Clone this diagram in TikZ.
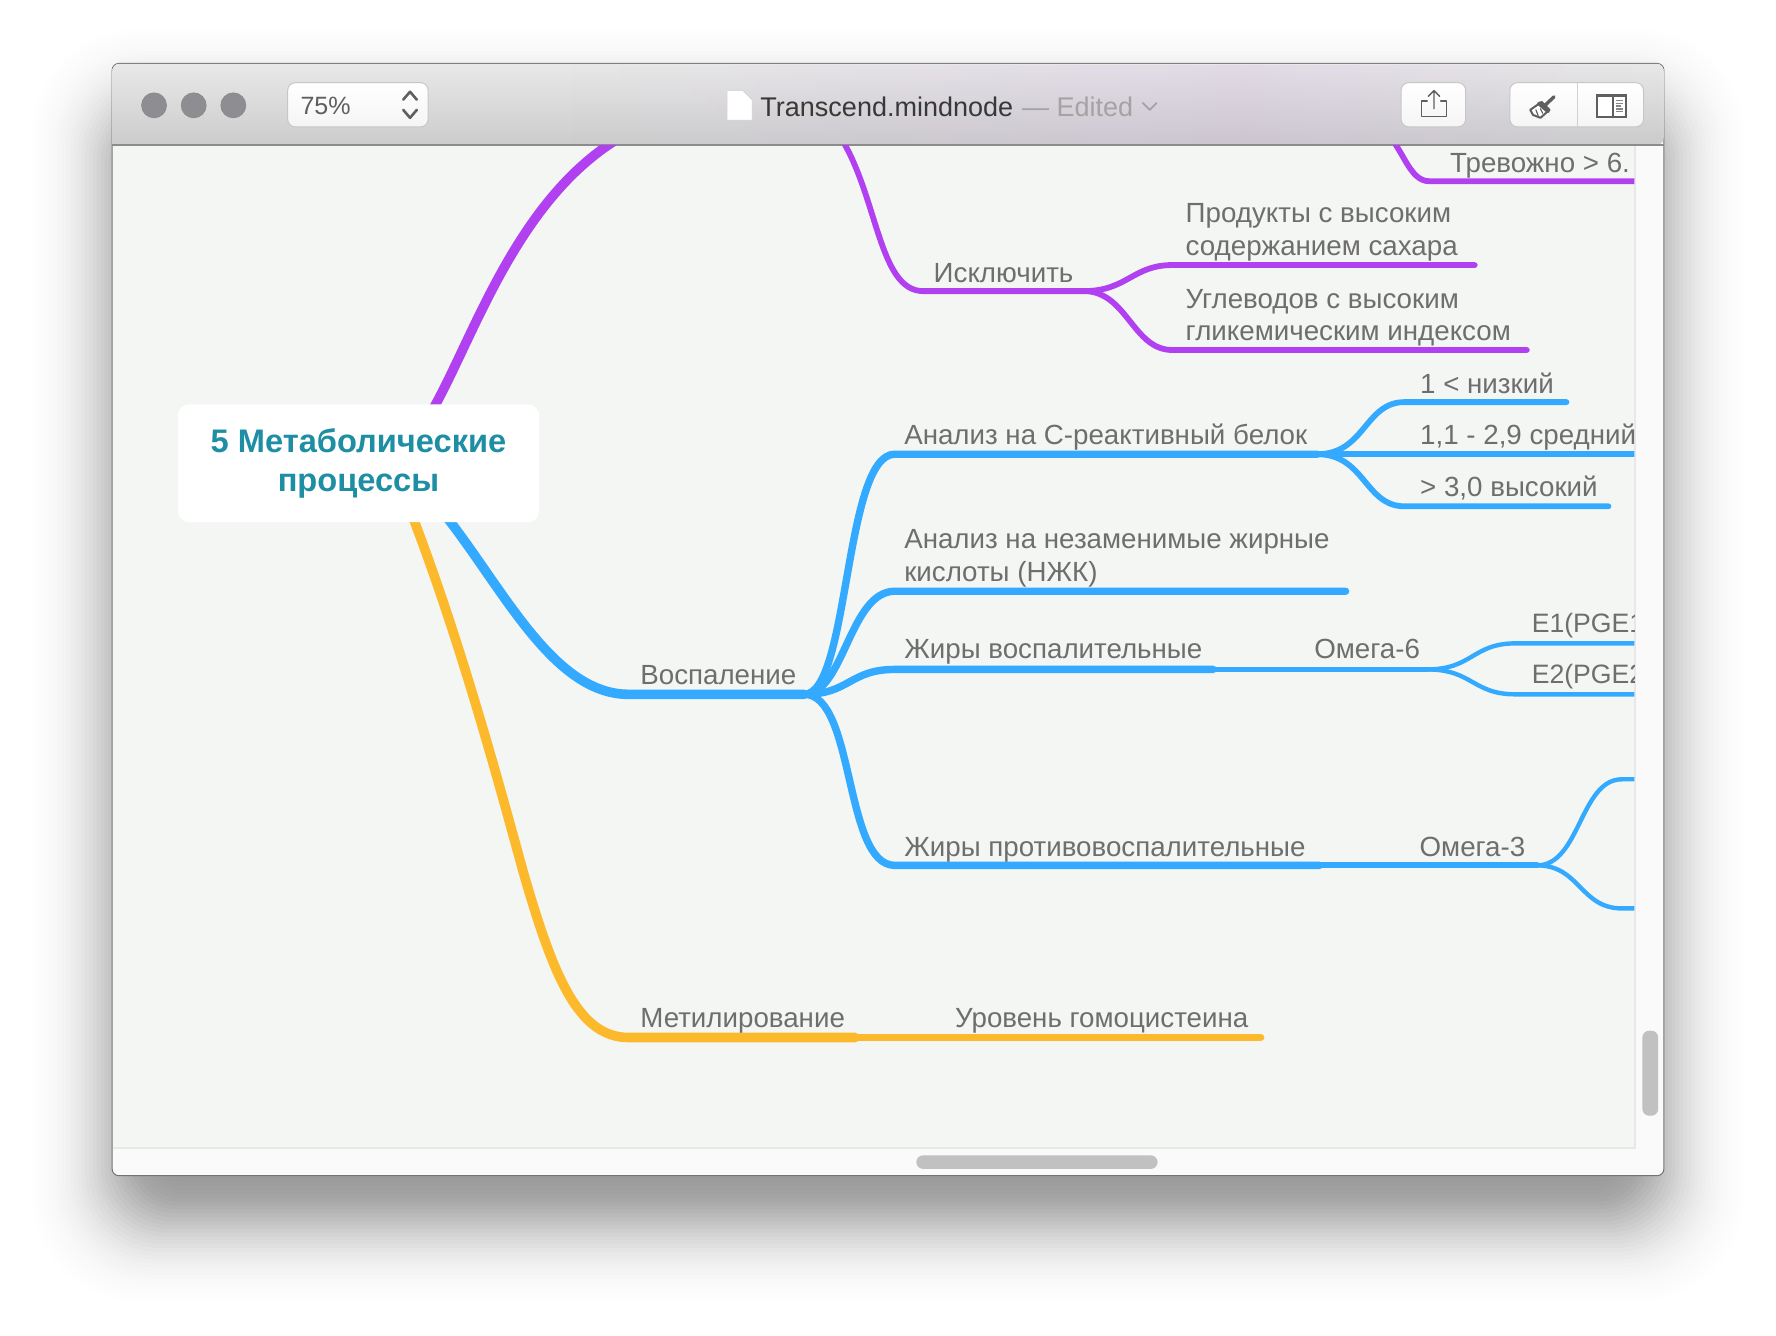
\documentclass[tikz,border=0pt]{standalone}
\usepackage{fontspec}
\setmainfont{Liberation Sans}
\usetikzlibrary{fadings,calc}
\pgfdeclarelayer{chrome}
\pgfdeclarelayer{conn}
\definecolor{pur}{RGB}{176,64,240}
\definecolor{blu}{RGB}{51,170,255}
\definecolor{yel}{RGB}{253,185,44}
\definecolor{txt}{RGB}{110,110,110}
\definecolor{canv}{RGB}{244,246,243}
\definecolor{teal2}{RGB}{29,142,163}
\definecolor{strip}{RGB}{250,250,250}
\definecolor{sbar}{RGB}{193,193,193}
\definecolor{lights}{RGB}{142,141,146}
\definecolor{iconc}{RGB}{95,95,95}
\definecolor{tint}{RGB}{205,175,225}
\tikzset{
  lab/.style={anchor=base west,inner sep=0pt,text=txt,font=\fontsize{13.85}{16}\selectfont},
  labs/.style={lab,font=\fontsize{13.3}{16}\selectfont},
  rootbox/.style={fill=white,rounded corners=5.6pt,inner sep=0pt,minimum width=180.5pt,minimum height=58.9pt,align=center,text=teal2,font=\fontsize{16.3}{19.8}\selectfont\bfseries},
  link/.style={line cap=round,line join=round},
  wa/.style={link,line width=4.8pt},
  wb/.style={link,line width=3.7pt},
  wc/.style={link,line width=2.9pt},
  wd/.style={link,line width=2.2pt},
  btn/.style={draw=black!22,line width=0.5pt,rounded corners=3.8pt,top color=white,bottom color=black!4},
  icon/.style={draw=iconc,line width=0.7pt,line cap=round,line join=round},
  lamp/.style={fill=lights,draw=black!45,line width=0.4pt},
  bar/.style={fill=sbar,rounded corners=3.4pt}
}
\begin{document}
\begin{tikzpicture}[x=0.566pt,y=-0.566pt]
\pgfsetlayers{chrome,conn,main}
\useasboundingbox (0,0) rectangle (1568,1179.5);

% ---------- window chrome ----------
\begin{pgfonlayer}{chrome}
\fill[white] (0,0) rectangle (1568,1179.5);
\foreach \z in {-2.5,-2.4,...,2.51}{
  \pgfmathsetmacro{\sp}{\z*34}
  \pgfmathsetmacro{\op}{0.5*0.1*0.3989*exp(-0.5*\z*\z)}
  \pgfmathsetmacro{\rad}{max(3,(\sp+90)*0.33)}
  \fill[black,fill opacity=\op,rounded corners=\rad pt]
     (99-\sp,96-\sp) rectangle (1469+\sp,1078+\sp);
}
\fill[strip,draw=black!55,line width=0.5pt,rounded corners=3.4pt] (99,56) rectangle (1469,1038);
\fill[canv] (99.5,128) rectangle (1443,1013);
\draw[black!9,line width=0.6pt] (99.5,1013.5) -- (1443.5,1013.5) -- (1443.5,128);
\path[top color=black!9,bottom color=black!20,rounded corners=3.4pt]
  (99.3,128) -- (99.3,56.3) -- (1468.7,56.3) -- (1468.7,128) [sharp corners] -- cycle;
\path[fill=tint,fill opacity=0.22,path fading=west]
  (500,128) rectangle (1100,57);
\path[fill=tint,fill opacity=0.22,path fading=east]
  (1100,128) rectangle (1468.7,57);
\draw[black!45,line width=0.6pt] (99,128) -- (1469,128);
\fill[bar] (1450,910) rectangle (1464,985);
\fill[bar] (809,1020) rectangle (1022,1032);
\end{pgfonlayer}

% toolbar items
\path[lamp] (136,93) circle [radius=11];
\path[lamp] (171,93) circle [radius=11];
\path[lamp] (206,93) circle [radius=11];
\path[btn] (254,73) rectangle (378,112);
\node[anchor=base west,inner sep=0pt,text=iconc,font=\fontsize{12.5}{16}\selectfont] (zoomt) at (265,101.5) {75\%};
\draw[icon,line width=1.3pt] (356,88) -- (362,81) -- (368,88);
\draw[icon,line width=1.3pt] (356,97) -- (362,104) -- (368,97);
\path[fill=white,draw=black!18,line width=0.3pt] (642,80) -- (656,80) -- (664,88) -- (664,106) -- (642,106) -- cycle;
\node[anchor=base west,inner sep=0pt,text=black!78,font=\fontsize{13.5}{16}\selectfont] (title) at (671,103) {Transcend.mindnode};
\node[anchor=base west,inner sep=0pt,text=black!36,font=\fontsize{13.5}{16}\selectfont] (edited) at (902,103) {— Edited};
\draw[black!36,line width=0.9pt,line cap=round,line join=round] (1009,91) -- (1015,97) -- (1021,91);
\path[btn] (1237,73) rectangle (1294,112);
\draw[icon] (1260,89) -- (1255,89) -- (1255,103) -- (1277,103) -- (1277,89) -- (1272,89);
\draw[icon] (1266,96) -- (1266,80) (1261,85) -- (1266,80) -- (1271,85);
\path[btn] (1333,73) rectangle (1451,112);
\draw[black!18,line width=0.5pt] (1393,73) -- (1393,112);
% brush
\draw[icon,line width=1.7pt] (1364,93) -- (1372,85.5);
\draw[icon,fill=white,line width=1pt] (1351,97) -- (1361,90) -- (1368,97) -- (1360,104) -- (1353.5,101.5) -- cycle;
\draw[icon,line width=2pt] (1359,91.5) -- (1366.5,98);
\draw[icon,line width=0.6pt] (1356,97) -- (1358,102) (1360,96) -- (1362,100);
% side panel
\draw[icon,line width=1.1pt,fill=white,line join=miter] (1410,84) rectangle (1435.5,103.5);
\fill[iconc] (1410,83.5) rectangle (1435.5,86);
\draw[icon,line width=1.1pt] (1424,84) -- (1424,103.5);
\foreach \q/\e in {88/1433,90.5/1433,93/1431,95.5/1433,98/1433}{\fill[iconc!75] (1427,\q) rectangle (\e,\q+1.2);}

% ---------- mind map labels ----------
\begin{scope}
\clip (99.5,128.5) rectangle (1443,1013);
\node[lab] (trev) at (1280,152) {Тревожно > 6.};
\node[lab] (isk) at (824,249) {Исключить};
\node[lab] (prod1) at (1046.5,196) {Продукты с высоким};
\node[lab] (prod2) at (1046.5,226) {содержанием сахара};
\node[lab] (ugl1) at (1046.5,272) {Углеводов с высоким};
\node[lab] (ugl2) at (1046.5,301) {гликемическим индексом};
\node[lab] (crp) at (798,392) {Анализ на С-реактивный белок};
\node[lab] (low) at (1253.5,347) {1 < низкий};
\node[lab] (mid) at (1253.5,392) {1,1 - 2,9 средний};
\node[lab] (high) at (1253.5,438) {> 3,0 высокий};
\node[lab] (nzk1) at (798,484) {Анализ на незаменимые жирные};
\node[lab] (nzk2) at (798,513) {кислоты (НЖК)};
\node[lab] (vosp) at (565,604) {Воспаление};
\node[lab] (fatin) at (798,581) {Жиры воспалительные};
\node[lab] (om6) at (1160,581) {Омега-6};
\node[labs] (e1) at (1352,558) {E1(PGE1};
\node[labs] (e2) at (1352,603) {E2(PGE2};
\node[lab] (fatanti) at (798,756) {Жиры противовоспалительные};
\node[lab] (om3) at (1253,756) {Омега-3};
\node[lab] (met) at (565,907) {Метилирование};
\node[lab] (gom) at (843,907) {Уровень гомоцистеина};
\end{scope}
\node[rootbox] (root) at (316.5,409) {5 Метаболические\\процессы};

% anchors of the branches
\coordinate (rootP) at (372,378);
\coordinate (rootB) at (385,445);
\coordinate (rootY) at (360,445);
\coordinate (pTop) at (565,112);
\coordinate (p2Top) at (740,118);
\coordinate (jIsk) at (957,257);
\coordinate (iskL) at (815,257);
\coordinate (tL) at (1262,160);
\coordinate (tTop) at (1225,118);
\coordinate (jVos) at (710,613);
\coordinate (vosL) at (555,613);
\coordinate (jCrp) at (1163,401);
\coordinate (jOm6) at (1260,591);
\coordinate (jOm3) at (1357,764);
\coordinate (metL) at (555,916);

% ---------- connectors ----------
\begin{pgfonlayer}{conn}
\begin{scope}
\clip (99.5,128.5) rectangle (1443,1013);
% purple
\draw[wa,pur] (rootP) .. controls (415,315) and (452,165) .. (pTop);
\draw[wc,pur] (p2Top) .. controls (775,170) and (775,257) .. (iskL) -- (jIsk);
\draw[wc,pur] (tTop) .. controls (1240,135) and (1245,160) .. (tL) -- (1460,160);
\draw[wc,pur] (jIsk) .. controls (995,257) and (1000,234) .. (1035,234) -- (1302,234);
\draw[wc,pur] (jIsk) .. controls (995,257) and (1000,309) .. (1035,309) -- (1348,309);
% blue
\draw[wa,blu] (rootB) .. controls (440,510) and (485,613) .. (vosL) -- (jVos);
\draw[wb,blu] (jVos) .. controls (750,613) and (745,401) .. (790,401) -- (jCrp);
\draw[wb,blu] (jVos) .. controls (745,613) and (750,522) .. (790,522) -- (1188,522);
\draw[wb,blu] (jVos) .. controls (750,613) and (750,591) .. (790,591) -- (1071,591);
\draw[wc,blu] (1071,591) -- (jOm6);
\draw[wb,blu] (jVos) .. controls (755,613) and (745,764) .. (790,764) -- (1165,764);
\draw[wc,blu] (1165,764) -- (jOm3);
\draw[wc,blu] (jCrp) .. controls (1205,401) and (1205,355) .. (1240,355) -- (1383,355);
\draw[wc,blu] (jCrp) -- (1460,401);
\draw[wc,blu] (jCrp) .. controls (1205,401) and (1205,447) .. (1240,447) -- (1420,447);
\draw[wd,blu] (jOm6) .. controls (1300,591) and (1300,568) .. (1338,568) -- (1460,568);
\draw[wd,blu] (jOm6) .. controls (1300,591) and (1300,613) .. (1338,613) -- (1460,613);
\draw[wd,blu] (jOm3) .. controls (1395,764) and (1395,688) .. (1432,688) -- (1460,688);
\draw[wd,blu] (jOm3) .. controls (1395,764) and (1395,802) .. (1432,802) -- (1460,802);
% yellow
\draw[wa,yel] (rootY) .. controls (405,560) and (440,690) .. (462,770) .. controls (488,860) and (510,916) .. (metL) -- (755,916);
\draw[wb,yel] (755,916) -- (1113,916);
\end{scope}
\end{pgfonlayer}
\end{tikzpicture}
\end{document}
